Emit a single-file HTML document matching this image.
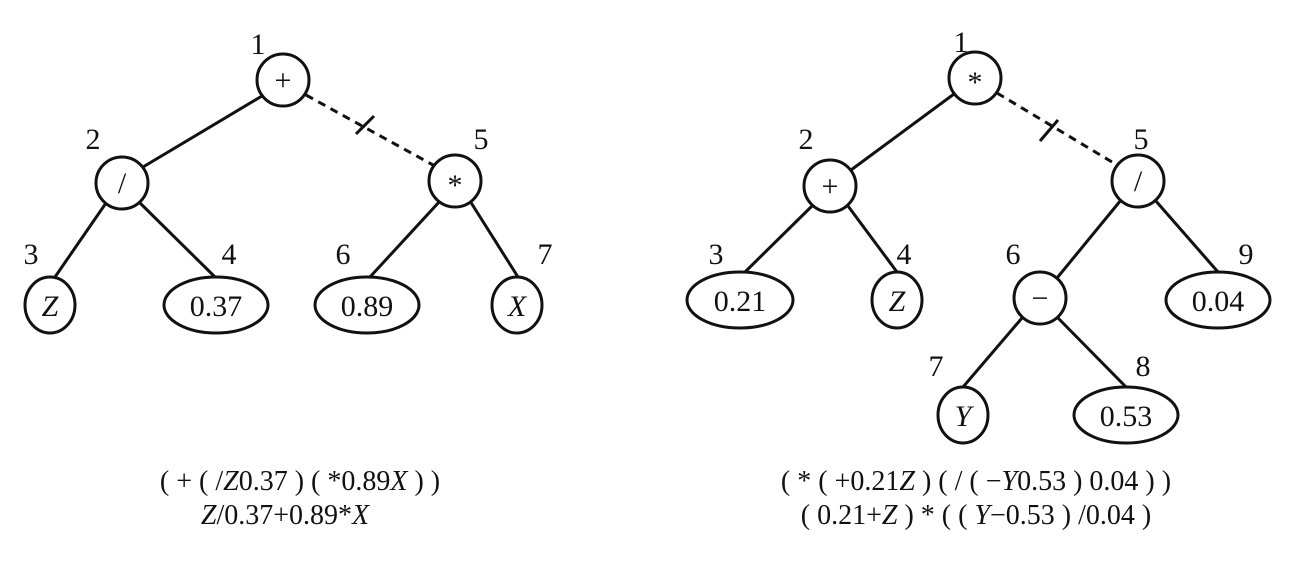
<!DOCTYPE html>
<html><head><meta charset="utf-8"><style>
html,body{margin:0;padding:0;background:#fff;}
svg{display:block;}
text{font-family:"Liberation Serif",serif;fill:#111;}
</style></head><body>
<svg width="1314" height="564" viewBox="0 0 1314 564" xmlns="http://www.w3.org/2000/svg">
<g stroke="#111" stroke-width="3" fill="none">
<line x1="262" y1="96" x2="143" y2="167"/>
<line x1="306" y1="95" x2="433" y2="165" stroke-dasharray="8,6"/>
<line x1="356" y1="134" x2="374" y2="116"/>
<line x1="106" y1="203" x2="55" y2="277"/>
<line x1="140" y1="203" x2="215" y2="277"/>
<line x1="440" y1="201" x2="370" y2="277"/>
<line x1="470" y1="201" x2="518" y2="277"/>
<line x1="954" y1="94" x2="851" y2="170"/>
<line x1="997" y1="93" x2="1117" y2="165" stroke-dasharray="8,6"/>
<line x1="1040" y1="141" x2="1058" y2="120"/>
<line x1="812" y1="206" x2="745" y2="272"/>
<line x1="848" y1="206" x2="897" y2="272"/>
<line x1="1121" y1="200" x2="1057" y2="278"/>
<line x1="1155" y1="200" x2="1218" y2="272"/>
<line x1="1022" y1="318" x2="963" y2="387"/>
<line x1="1058" y1="318" x2="1126" y2="387"/>
<circle cx="283" cy="80" r="26"/>
<circle cx="122" cy="183" r="26"/>
<circle cx="455" cy="181" r="26"/>
<ellipse cx="50" cy="305" rx="25" ry="28"/>
<ellipse cx="216" cy="305" rx="52" ry="28"/>
<ellipse cx="367" cy="305" rx="52" ry="28"/>
<ellipse cx="517" cy="305" rx="25" ry="28"/>
<circle cx="975" cy="78" r="26"/>
<circle cx="830" cy="186" r="26"/>
<circle cx="1138" cy="181" r="26"/>
<ellipse cx="740" cy="300" rx="53" ry="28"/>
<ellipse cx="897" cy="300" rx="25" ry="28"/>
<circle cx="1040" cy="298" r="26"/>
<ellipse cx="1218" cy="300" rx="52" ry="28"/>
<ellipse cx="963" cy="415" rx="25" ry="28"/>
<ellipse cx="1126" cy="415" rx="52" ry="28"/>
</g>
<g font-size="30" text-anchor="middle">
<text x="283" y="90">+</text>
<text x="122" y="193">/</text>
<text x="455" y="195">*</text>
<text x="50" y="316" font-style="italic">Z</text>
<text x="216" y="316">0.37</text>
<text x="367" y="316">0.89</text>
<text x="517" y="316" font-style="italic">X</text>
<text x="975" y="92">*</text>
<text x="830" y="196">+</text>
<text x="1138" y="191">/</text>
<text x="740" y="311">0.21</text>
<text x="897" y="311" font-style="italic">Z</text>
<text x="1040" y="308">−</text>
<text x="1218" y="311">0.04</text>
<text x="963" y="426" font-style="italic">Y</text>
<text x="1126" y="426">0.53</text>
<text x="258" y="54">1</text>
<text x="93" y="149">2</text>
<text x="481" y="149">5</text>
<text x="31" y="264">3</text>
<text x="229" y="264">4</text>
<text x="343" y="264">6</text>
<text x="545" y="264">7</text>
<text x="961" y="52">1</text>
<text x="806" y="149">2</text>
<text x="1141" y="149">5</text>
<text x="716" y="264">3</text>
<text x="904" y="264">4</text>
<text x="1013" y="264">6</text>
<text x="1246" y="264">9</text>
<text x="936" y="376">7</text>
<text x="1143" y="376">8</text>
</g>
<g font-size="28" text-anchor="middle">
<text x="300" y="490">( + ( /<tspan font-style="italic">Z</tspan>0.37 ) ( *0.89<tspan font-style="italic">X</tspan> ) )</text>
<text x="285" y="524"><tspan font-style="italic">Z</tspan>/0.37+0.89*<tspan font-style="italic">X</tspan></text>
<text x="976" y="490">( * ( +0.21<tspan font-style="italic">Z</tspan> ) ( / ( −<tspan font-style="italic">Y</tspan>0.53 ) 0.04 ) )</text>
<text x="976" y="524">( 0.21+<tspan font-style="italic">Z</tspan> ) * ( ( <tspan font-style="italic">Y</tspan>−0.53 ) /0.04 )</text>
</g>
</svg>
</body></html>
